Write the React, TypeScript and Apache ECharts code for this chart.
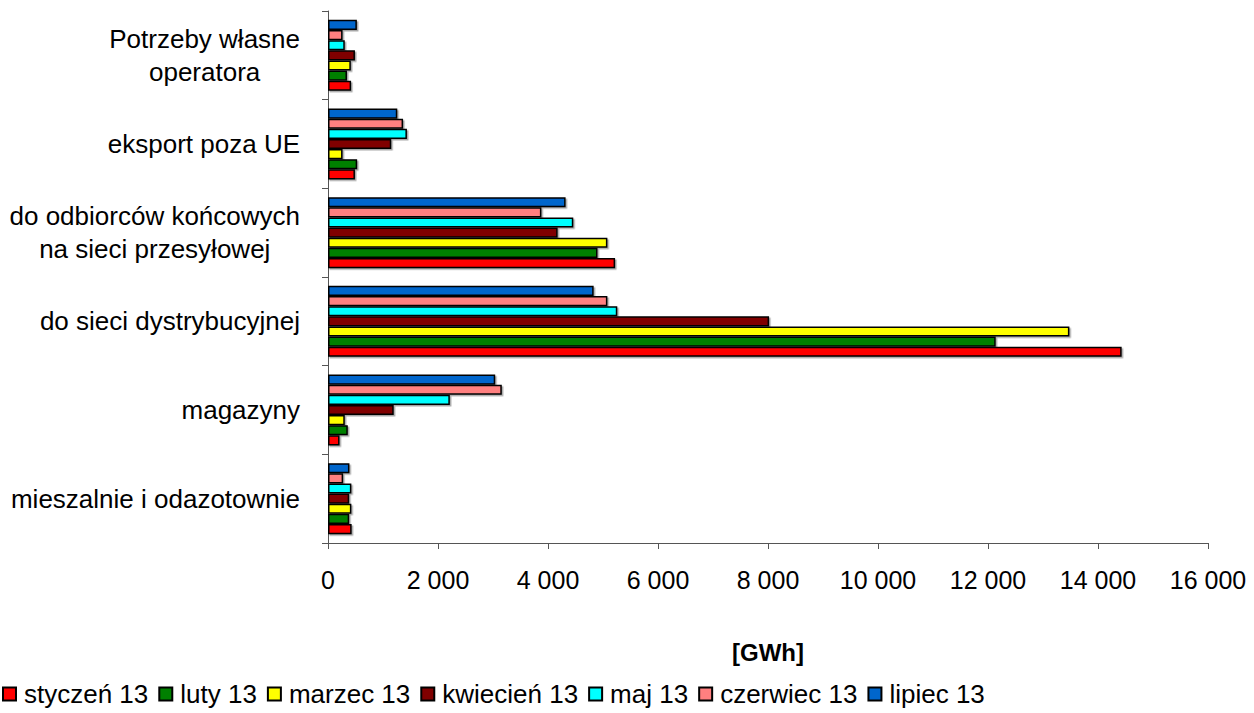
import React, { useEffect, useRef } from "react";
import * as echarts from "echarts";

const categories = [
  "mieszalnie i odazotownie",
  "magazyny",
  "do sieci dystrybucyjnej",
  "do odbiorców końcowych\nna sieci przesyłowej",
  "eksport poza UE",
  "Potrzeby własne\noperatora",
];

const seriesNames = [
  "styczeń 13",
  "luty 13",
  "marzec 13",
  "kwiecień 13",
  "maj 13",
  "czerwiec 13",
  "lipiec 13",
];

const styczen = [430, 210, 14430, 5220, 490, 420];
const luty = [385, 360, 12140, 4900, 530, 345];
const marzec = [425, 305, 13480, 5080, 265, 415];
const kwiecien = [385, 1195, 8020, 4175, 1150, 490];
const maj = [425, 2215, 5260, 4460, 1435, 305];
const czerwiec = [275, 3160, 5080, 3880, 1365, 265];
const lipiec = [390, 3040, 4830, 4320, 1260, 525];

const seriesValues = [styczen, luty, marzec, kwiecien, maj, czerwiec, lipiec];
const seriesColors = ["#FF0000", "#008000", "#FFFF00", "#800000", "#00FFFF", "#FF8080", "#0066CC"];

const xTicks = { min: 0, max: 16000, interval: 2000 };

const FONT = "'Liberation Sans', Arial, sans-serif";

export default function App() {
  const ref = useRef<HTMLDivElement>(null);
  useEffect(() => {
    if (!ref.current) return;
    const chart = echarts.init(ref.current, undefined, { renderer: "svg" });
    const series = seriesNames
      .map((name, i) => ({
        name,
        type: "bar",
        data: seriesValues[i],
        barGap: "0%",
        barCategoryGap: "20%",
        itemStyle: {
          color: seriesColors[i],
          borderColor: "#000",
          borderWidth: 1.5,
          shadowColor: "rgba(0,0,0,0.35)",
          shadowOffsetX: 1.5,
          shadowOffsetY: 1.5,
          shadowBlur: 0,
        },
      }))
      .reverse();
    chart.setOption({
      animation: false,
      textStyle: { fontFamily: FONT, color: "#000" },
      grid: { left: 328, right: 46, top: 11, bottom: 170, containLabel: false },
      legend: {
        left: -3,
        top: 676,
        itemWidth: 13,
        itemHeight: 13,
        itemGap: 10,
        icon: "rect",
        textStyle: { fontFamily: FONT, fontSize: 26, color: "#000", padding: [0, 0, 0, 3] },
        data: seriesNames,
      },
      xAxis: {
        type: "value",
        min: xTicks.min,
        max: xTicks.max,
        interval: xTicks.interval,
        name: "[GWh]",
        nameLocation: "middle",
        nameGap: 97,
        nameTextStyle: { fontFamily: FONT, fontSize: 24, fontWeight: "bold", color: "#000" },
        axisLine: { show: true, lineStyle: { color: "#555", width: 1 } },
        axisTick: { show: true, length: 6, lineStyle: { color: "#555" } },
        splitLine: { show: false },
        axisLabel: {
          fontFamily: FONT,
          fontSize: 25,
          color: "#000",
          margin: 24,
          formatter: (v: number) => String(v).replace(/\B(?=(\d{3})+(?!\d))/g, " "),
        },
      },
      yAxis: {
        type: "category",
        data: categories,
        axisLine: { show: true, lineStyle: { color: "#555", width: 1 } },
        axisTick: { show: true, length: 6, inside: false, alignWithLabel: false, lineStyle: { color: "#555" } },
        splitLine: { show: false },
        axisLabel: {
          fontFamily: FONT,
          fontSize: 26,
          color: "#000",
          margin: 28,
          lineHeight: 33,
          formatter: (v: string) => v.split("\n").map((l) => `{c|${l}}`).join("\n"),
          rich: {
            c: { align: "center", fontFamily: FONT, fontSize: 26, lineHeight: 33, color: "#000" },
          },
        },
      },
      series,
    });
    return () => chart.dispose();
  }, []);
  return (
    <div
      ref={ref}
      style={{ position: "absolute", left: 0, top: 0, width: 1254, height: 713, background: "#fff" }}
    />
  );
}
